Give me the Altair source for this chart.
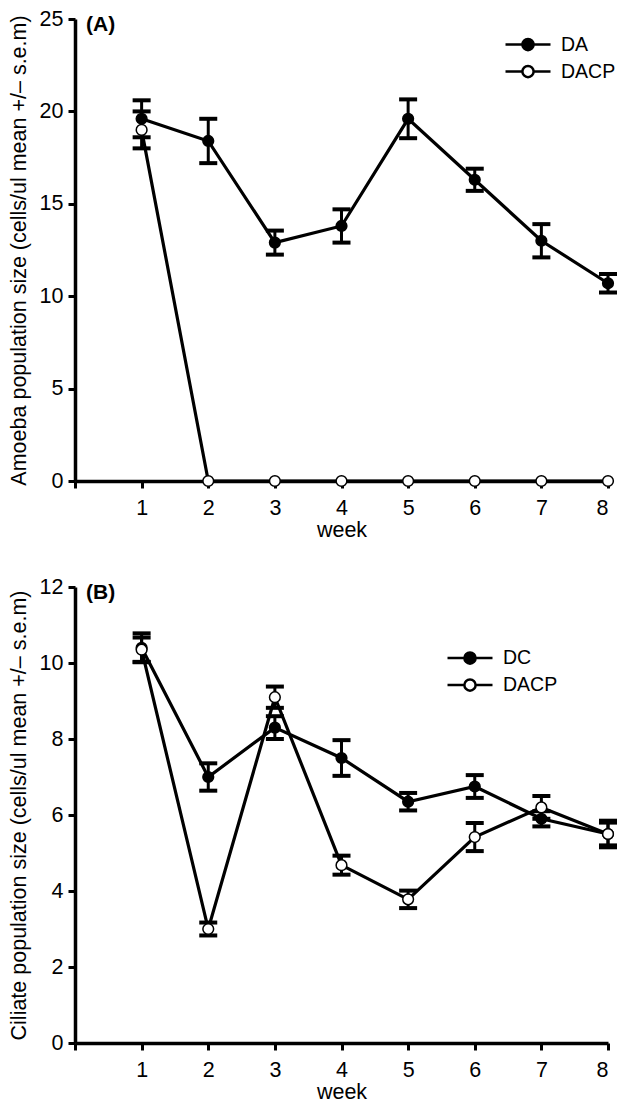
import altair as alt
import pandas as pd

weeks = [1, 2, 3, 4, 5, 6, 7, 8]

# Panel A: amoeba
da_mean = [19.6, 18.4, 12.9, 13.8, 19.6, 16.3, 13.0, 10.7]
da_sem = [1.0, 1.2, 0.65, 0.9, 1.05, 0.6, 0.9, 0.5]
dacp_a_mean = [19.0, 0, 0, 0, 0, 0, 0, 0]
dacp_a_sem = [1.0, 0, 0, 0, 0, 0, 0, 0]

# Panel B: ciliate
dc_mean = [10.4, 7.0, 8.3, 7.5, 6.35, 6.75, 5.9, 5.5]
dc_sem = [0.38, 0.36, 0.3, 0.47, 0.23, 0.3, 0.2, 0.35]
dacp_b_mean = [10.35, 3.0, 9.1, 4.68, 3.78, 5.42, 6.2, 5.5]
dacp_b_sem = [0.32, 0.17, 0.28, 0.25, 0.23, 0.37, 0.3, 0.3]

x_ticks = [0, 1, 2, 3, 4, 5, 6, 7, 8]
FONT = "Liberation Sans, Arial, sans-serif"
FS = 21.5
LEG_PATH = ("M-1,0L-0.25,0M0.25,0L1,0"
            "M0.25,0A0.25,0.25,0,1,1,-0.25,0A0.25,0.25,0,1,1,0.25,0Z")


def frame(s1, m1, e1, s2, m2, e2):
    rows = []
    for s, m, e in ((s1, m1, e1), (s2, m2, e2)):
        for w, mv, ev in zip(weeks, m, e):
            rows.append({"week": w, "mean": mv, "sem": ev, "series": s,
                         "lo": mv - ev, "hi": mv + ev})
    return pd.DataFrame(rows)


def panel(df, order, ymax, ystep, ytitle, tag, legx, legy, h):
    xs = alt.Scale(domain=[0, 8], nice=False)
    ys = alt.Scale(domain=[0, ymax], nice=False)
    xax = alt.Axis(values=x_ticks, title="week", format="d",
                   labelExpr="datum.value == 0 ? '' : datum.label")
    yax = alt.Axis(values=list(range(0, ymax + 1, ystep)), title=ytitle,
                   format="d")
    base = alt.Chart(df)
    lines = base.mark_line(color="black", strokeWidth=3.2).encode(
        x=alt.X("week:Q", scale=xs, axis=xax),
        y=alt.Y("mean:Q", scale=ys, axis=yax),
        detail="series:N",
    )
    err = base.transform_filter("datum.sem > 0").mark_rule(
        color="black", strokeWidth=3).encode(
        x="week:Q", y="lo:Q", y2="hi:Q")
    caps = base.transform_filter("datum.sem > 0").transform_fold(
        ["lo", "hi"], as_=["end", "val"]).mark_tick(
        color="black", orient="horizontal", size=18, thickness=4,
        opacity=1).encode(x="week:Q", y="val:Q")
    pts = base.mark_point(shape="circle", filled=True, stroke="black",
                          strokeWidth=1.5, size=115, opacity=1).encode(
        x="week:Q", y="mean:Q",
        fill=alt.Fill("series:N", sort=order,
                      scale=alt.Scale(domain=order, range=["black", "white"]),
                      legend=alt.Legend(
                          title=None, orient="none", legendX=legx,
                          legendY=legy, symbolType=LEG_PATH,
                          symbolSize=2025, symbolStrokeColor="black",
                          symbolStrokeWidth=2.5, labelFontSize=19.5,
                          labelOffset=9, clipHeight=27, rowPadding=0,
                          padding=0, labelFont=FONT, labelColor="black")),
        order=alt.Order("ord:Q"),
    ).transform_calculate(ord=f"datum.series == '{order[1]}' ? 1 : 0")
    lab = alt.Chart(pd.DataFrame({"t": [tag]})).mark_text(
        align="left", baseline="middle", fontSize=21, fontWeight="bold",
        font=FONT, color="black").encode(
        x=alt.value(11), y=alt.value(6), text="t:N")
    return alt.layer(lines, err, caps, pts, lab).properties(
        width=533, height=h)


df_a = frame("DA", da_mean, da_sem, "DACP", dacp_a_mean, dacp_a_sem)
df_b = frame("DC", dc_mean, dc_sem, "DACP", dacp_b_mean, dacp_b_sem)

pa = panel(df_a, ["DA", "DACP"], 25, 5,
           "Amoeba population size (cells/ul mean +/– s.e.m)", "(A)",
           429, 12, 462)
pb = panel(df_b, ["DC", "DACP"], 12, 2,
           "Ciliate population size (cells/ul mean +/– s.e.m)", "(B)",
           371, 57.5, 456)

chart = alt.vconcat(pa, pb, spacing=35).resolve_scale(
    fill="independent", y="independent"
).properties(
    padding={"left": 0, "top": 0, "right": 0, "bottom": 0}
).configure(font=FONT).configure_view(stroke=None).configure_axis(
    grid=False, domainColor="black", domainWidth=3.5, tickColor="black",
    tickWidth=3, tickSize=7, labelFontSize=FS, titleFontSize=FS,
    labelColor="black", titleColor="black", labelFont=FONT, titleFont=FONT,
    titleFontWeight="normal",
).configure_axisX(labelPadding=9, titlePadding=1).configure_axisY(
    labelPadding=5, titlePadding=8.5)

chart.save("out.html", embed_options={"renderer": "svg", "actions": False})
